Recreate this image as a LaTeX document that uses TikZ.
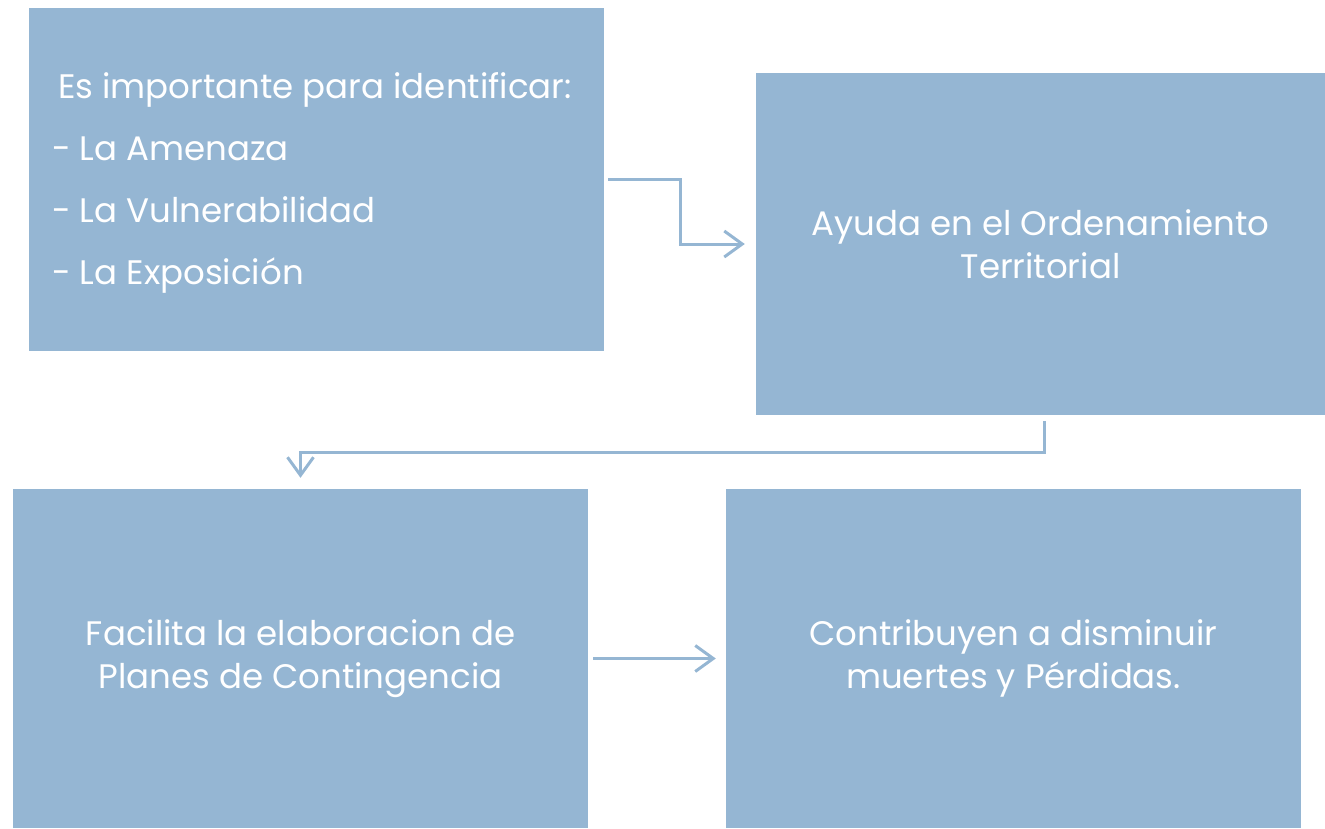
\documentclass[tikz,border=0pt]{standalone}
\usepackage{fontspec}
\setmainfont{Poppins}
\usetikzlibrary{arrows.meta}
\definecolor{boxblue}{HTML}{95B6D3}
\tikzset{
  box/.style={fill=boxblue, draw=none, inner sep=0pt, text=white, font=\fontsize{34}{43}\selectfont, align=center},
  arr/.style={draw=boxblue, line width=3pt, -{Straight Barb[length=18pt,width=26pt,line width=3pt]}}
}
\begin{document}
\begin{tikzpicture}[x=1pt,y=-1pt]
\useasboundingbox (0,0) rectangle (1325,828);
\node[box, minimum width=575pt, minimum height=343pt] (b1) at (316.5,179.5) {};
\node[box, minimum width=569pt, minimum height=342pt] (b2) at (1040.5,244) {Ayuda en el Ordenamiento\\Territorial};
\node[box, minimum width=575pt, minimum height=339pt] (b3) at (300.5,658.5) {Facilita la elaboracion de\\Planes de Contingencia};
\node[box, minimum width=575pt, minimum height=339pt] (b4) at (1013.5,658.5) {Contribuyen a disminuir\\muertes y Pérdidas.};
\node[box, fill=none, align=left, anchor=west] (t1) at (52,183) {\hspace*{6pt}Es importante para identificar:\\[19pt]- La Amenaza\\[19pt]- La Vulnerabilidad\\[19pt]- La Exposición};
\draw[arr, shorten <=4pt, shorten >=11pt] (b1.east) -- ++(76,0) |- (b2.west);
\draw[arr, shorten <=6pt, shorten >=11pt] ([xshift=3.5pt]b2.south) -- ++(0,37) -| (b3.north);
\draw[arr, shorten <=5pt, shorten >=10pt] (b3.east) -- (b4.west);
\end{tikzpicture}
\end{document}
